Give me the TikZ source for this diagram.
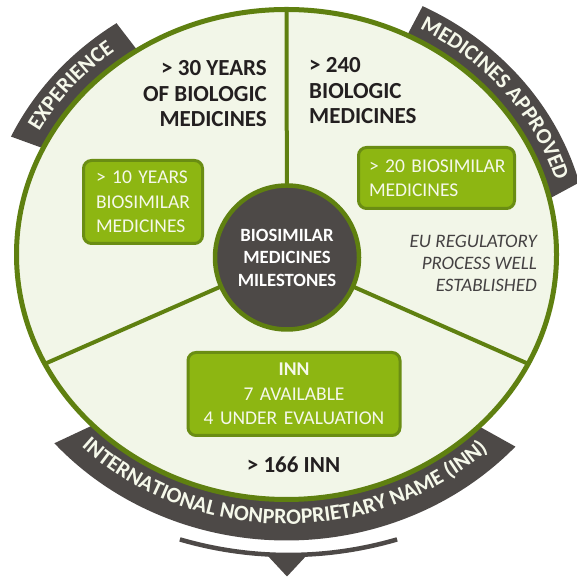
\documentclass[tikz,border=0pt]{standalone}
\usepackage{fontspec}
\setmainfont{Carlito}
\usetikzlibrary{decorations.text}

\definecolor{rim}{HTML}{5F8010}
\definecolor{paper}{HTML}{F2F6E8}
\definecolor{boxfill}{HTML}{8DB612}
\definecolor{boxline}{HTML}{6A8D13}
\definecolor{slate}{HTML}{4D4947}
\definecolor{ink}{HTML}{231F20}
\definecolor{cream}{HTML}{F5F8EA}

\begin{document}
\begin{tikzpicture}[x=1pt,y=1pt,
  bandtext/.style={decorate,decoration={text along path,text align=center,text color=cream,
    text={|\fontsize{22}{22}\selectfont\bfseries|#1}}},
  divider/.style={draw=rim,line width=4pt},
  greenbox/.style={draw=boxline,line width=3pt,fill=boxfill,rounded corners=8pt,text=cream,
    font=\fontsize{19.5}{24.5}\selectfont},
  headline/.style={inner sep=0pt,text=ink,font=\fontsize{23}{25.5}\selectfont\bfseries}]

  \fill[white] (0,0) rectangle (577,577);
  \useasboundingbox (0,0) rectangle (577,577);
  \coordinate (mid) at (286.5,322.5);

  \fill[slate] (66,420.4) -- ([shift={(mid)}]155:304pt and 279pt)
    arc[start angle=155,end angle=124,x radius=304pt,y radius=279pt] -- (146.5,514.8) -- cycle;
  \fill[slate] (397.7,523.9) -- ([shift={(mid)}]63.3:303pt and 278pt)
    arc[start angle=63.3,end angle=15,x radius=303pt,y radius=278pt] -- (529.2,367.4) -- cycle;
  \fill[slate] (119,164) -- ([shift={(mid)}]221.3:309pt and 286pt)
    arc[start angle=221.3,end angle=317.8,x radius=309pt,y radius=286pt] -- (464,159) -- cycle;

  \draw[draw=rim,fill=paper,line width=5pt] (mid) ellipse[x radius=270pt,y radius=245pt];

  \path[bandtext=EXPERIENCE] ([shift={(mid)}]155:282pt and 256.5pt)
    arc[start angle=155,end angle=124,x radius=282pt,y radius=256.5pt];
  \path[bandtext={MEDICINES APPROVED}] ([shift={(mid)}]63.3:281pt and 256pt)
    arc[start angle=63.3,end angle=15,x radius=281pt,y radius=256pt];
  \path[bandtext={INTERNATIONAL NONPROPRIETARY NAME (INN)}] ([shift={(mid)}]221.3:293pt and 269.5pt)
    arc[start angle=221.3,end angle=317.8,x radius=293pt,y radius=269.5pt];

  \coordinate (rimN) at ([shift={(mid)}]90:270pt and 245pt);
  \coordinate (rimW) at ([shift={(mid)}]206.5:270pt and 245pt);
  \coordinate (rimE) at ([shift={(mid)}]333.5:270pt and 245pt);
  \coordinate (hubc) at (287,319.5);

  \draw[divider] (hubc) -- (rimN);
  \draw[divider] (hubc) -- (rimW);
  \draw[divider] (hubc) -- (rimE);

  \node[circle,fill=slate,draw=rim,line width=4.5pt,minimum size=144pt,text=white,align=center,
    font=\fontsize{18.7}{22.5}\selectfont\bfseries] (hub) at (hubc) {BIOSIMILAR\\MEDICINES\\MILESTONES};

  \node[headline,align=right,anchor=east] (thirty) at (267,483) {> 30 YEARS\\OF BIOLOGIC\\MEDICINES};
  \node[headline,align=left,anchor=west] (twoforty) at (309,486) {> 240\\BIOLOGIC\\MEDICINES};
  \node[headline] (inncount) at (293.5,112) {> 166 INN};

  \node[greenbox,text width=94pt,inner xsep=12.5pt,minimum height=83pt,align=left] (tenyears)
    at (143,375) {\mbox{> 10 YEARS}\\\mbox{BIOSIMILAR}\\MEDICINES};
  \node[greenbox,text width=135pt,inner xsep=10.5pt,minimum height=61pt,align=left] (twenty)
    at (436.5,399) {\mbox{> 20 BIOSIMILAR}\\MEDICINES};
  \node[greenbox,text width=190pt,inner xsep=11pt,minimum height=83pt,align=center] (innbox)
    at (294,183) {\textbf{INN}\\7 AVAILABLE\\4 UNDER EVALUATION};

  \node[inner sep=0pt,align=right,anchor=east,text=ink!85,font=\fontsize{19}{22}\selectfont\itshape]
    (regproc) at (537,313.5) {EU REGULATORY\\PROCESS WELL\\ESTABLISHED};

  \draw[slate,line width=4.5pt] ([shift={(288.5,409)}]253.7:387pt) arc[start angle=253.7,end angle=286.3,radius=387pt];
  \fill[slate] (267,22) -- (287,0.5) -- (307,22) -- cycle;

\end{tikzpicture}
\end{document}
